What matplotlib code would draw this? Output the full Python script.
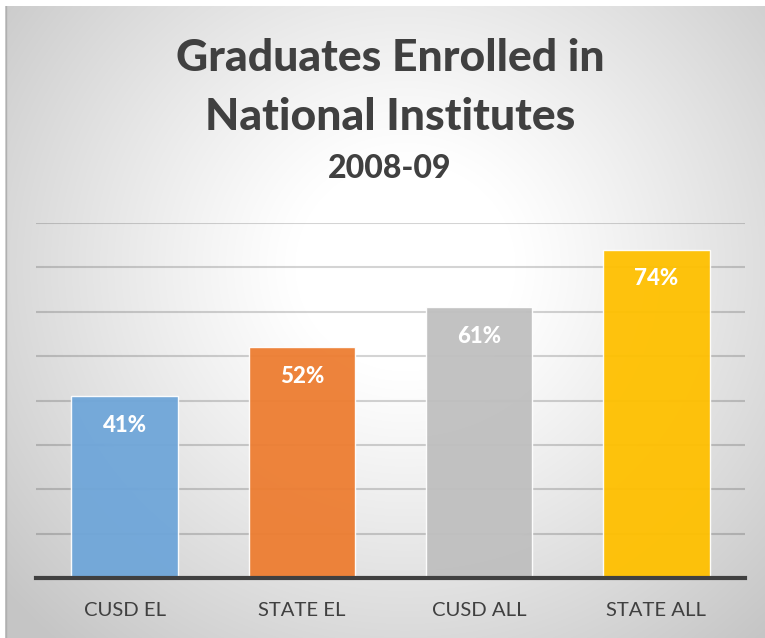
import numpy as np
import matplotlib.pyplot as plt

# Dados do gráfico
categorias = ["CUSD EL", "STATE EL", "CUSD ALL", "STATE ALL"]
valores = [41, 52, 61, 74]
cores = ["#6FA6D9", "#ED7D31", "#BFBFBF", "#FFC000"]
titulo = ["Graduates Enrolled in", "National Institutes"]
subtitulo = "2008-09"

W, H = 765, 638
fig = plt.figure(figsize=(W / 100, H / 100), dpi=100)
fig.patch.set_facecolor("white")

# Fundo com gradiente radial (branco no centro, cinza nas bordas)
bg = fig.add_axes([5 / W, 0, 1 - 5 / W, 1 - 6 / H])
yy, xx = np.mgrid[0:632, 0:760]
r = np.sqrt((xx - 400) ** 2 + ((yy - 260) * 1.05) ** 2)
t = np.clip((r - 110) / 420, 0, 1)
val = (255 - 58 * t ** 1.1) / 255
bg.imshow(np.dstack([val, val, val]), aspect="auto", extent=[0, 1, 0, 1], origin="upper")
bg.set_xlim(0, 1)
bg.set_ylim(0, 1)
bg.axis("off")
bg.plot([0.001, 0.001], [0, 1], color="#B0B0B0", lw=1, transform=bg.transAxes)

# Área do gráfico
ax = fig.add_axes([36 / W, (H - 578) / H, (745 - 36) / W, (578 - 223) / H])
ax.patch.set_alpha(0)
x = np.arange(len(categorias))
barras = ax.bar(x, valores, width=0.6, color=cores, edgecolor="#FFFFFF",
                linewidth=1, alpha=0.95, zorder=3)
ax.set_xlim(-0.5, len(categorias) - 0.5)
ax.set_ylim(0, 80)
ax.set_yticks(np.arange(10, 81, 10))
ax.yaxis.grid(True, color="black", alpha=0.17, lw=1.5, zorder=1)
ax.tick_params(axis="y", left=False, labelleft=False)
ax.tick_params(axis="x", bottom=False, pad=14)
ax.set_xticks(x)
ax.set_xticklabels(categorias, fontsize=14.6, color="#404040", family="Lato")
for s in ["top", "right", "left"]:
    ax.spines[s].set_visible(False)
ax.spines["bottom"].set_color("#404040")
ax.spines["bottom"].set_linewidth(3)
ax.spines["bottom"].set_zorder(4)

# Rótulos de dados
for xi, v in zip(x, valores):
    ax.text(xi, v - 6.6, f"{v}%", ha="center", va="center", color="white",
            fontsize=16, fontweight="black", family="Lato", zorder=5)

# Títulos
xc = 390 / W
fig.text(xc, 1 - 58 / H, titulo[0], ha="center", va="center", fontsize=32,
         fontweight="black", color="#404040", family="Lato")
fig.text(xc, 1 - 117 / H, titulo[1], ha="center", va="center", fontsize=32,
         fontweight="black", color="#404040", family="Lato")
fig.text(xc, 1 - 168 / H, subtitulo, ha="center", va="center", fontsize=23,
         fontweight="black", color="#404040", family="Lato")

fig.savefig("out.png", dpi=100)
